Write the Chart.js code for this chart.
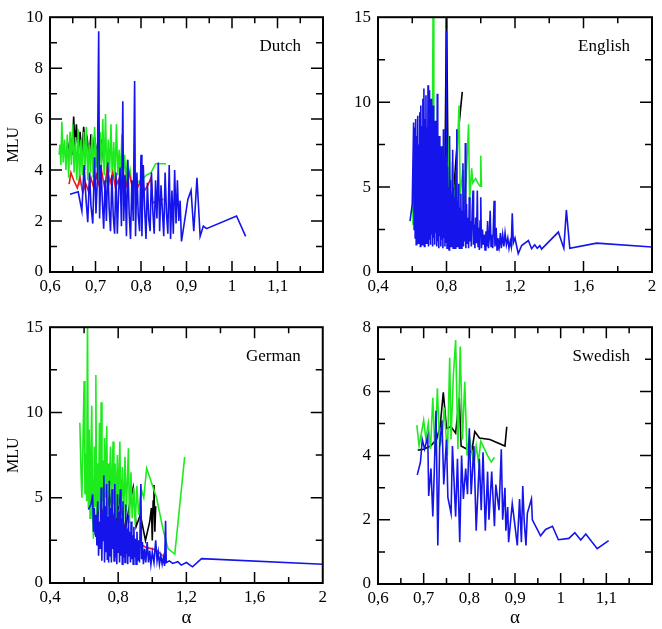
<!DOCTYPE html>
<html lang="en">
<head>
<meta charset="UTF-8">
<title>MLU against alpha, four languages</title>
<script src="https://cdn.jsdelivr.net/npm/chart.js"></script>
<style>
  body { margin: 0; background: #fff; }
  canvas { position: absolute; }
</style>
</head>
<body>
<canvas id="dutch" width="331" height="310" style="left:0;top:0"></canvas>
<canvas id="english" width="331" height="310" style="left:331px;top:0"></canvas>
<canvas id="german" width="331" height="319" style="left:0;top:310px"></canvas>
<canvas id="swedish" width="331" height="319" style="left:331px;top:310px"></canvas>
<script>
// values: [alpha, MLU]
const dutchBlack = [[0.640,4.8],[0.645,5.3],[0.649,4.6],[0.652,6.1],[0.655,4.9],[0.658,5.8],[0.662,4.7],[0.666,5.5],[0.670,4.6],[0.674,5.7],[0.678,4.8],[0.682,5.2],[0.686,4.5],[0.690,5.4],[0.694,4.6],[0.698,5.3],[0.702,4.5],[0.706,5.3],[0.710,4.5],[0.714,5.2],[0.718,4.3]];
const dutchGreen = [[0.620,4.6],[0.622,5.0],[0.624,4.2],[0.626,5.9],[0.629,4.3],[0.632,5.2],[0.635,4.0],[0.638,5.4],[0.641,3.7],[0.644,5.5],[0.647,4.2],[0.650,5.8],[0.653,3.9],[0.656,5.3],[0.659,3.6],[0.662,5.6],[0.665,3.4],[0.668,5.2],[0.671,3.8],[0.674,5.5],[0.677,4.0],[0.680,5.7],[0.683,3.6],[0.686,5.0],[0.689,3.9],[0.692,5.4],[0.695,3.7],[0.698,5.7],[0.701,4.1],[0.704,5.0],[0.707,3.6],[0.710,5.5],[0.713,4.0],[0.716,6.0],[0.719,3.8],[0.722,6.2],[0.725,3.5],[0.728,5.2],[0.731,3.9],[0.734,5.8],[0.737,3.6],[0.740,5.1],[0.743,3.7],[0.746,5.8],[0.749,3.8],[0.752,4.8],[0.755,3.6],[0.758,5.4],[0.761,3.9],[0.764,4.6],[0.767,3.5],[0.770,4.4],[0.773,3.7],[0.776,4.0],[0.780,3.4],[0.790,3.5],[0.800,3.6],[0.812,3.8],[0.822,3.9],[0.832,4.25],[0.855,4.25]];
const dutchRed = [[0.642,3.45],[0.646,3.9],[0.652,3.6],[0.660,3.3],[0.666,3.7],[0.672,3.1],[0.678,3.5],[0.684,3.2],[0.690,3.7],[0.696,3.3],[0.702,3.8],[0.708,3.4],[0.714,3.9],[0.720,3.3],[0.726,4.1],[0.732,3.5],[0.738,3.9],[0.744,3.3],[0.750,3.6],[0.756,3.2],[0.762,3.8],[0.768,3.4],[0.774,3.9],[0.780,3.4],[0.786,3.7],[0.792,3.3],[0.800,3.6],[0.808,3.2],[0.815,3.4],[0.822,3.7],[0.826,2.7],[0.835,2.8],[0.849,2.85]];
const dutchBlue = [[0.644,3.05],[0.662,3.15],[0.670,2.4],[0.675,4.2],[0.679,2.9],[0.683,1.95],[0.687,3.9],[0.690,2.6],[0.694,1.9],[0.698,4.5],[0.701,2.3],[0.704,3.6],[0.707,9.45],[0.709,2.1],[0.712,4.2],[0.715,2.8],[0.718,1.7],[0.721,3.6],[0.724,2.0],[0.727,4.3],[0.730,2.5],[0.733,1.6],[0.736,3.8],[0.739,2.2],[0.742,1.5],[0.745,3.9],[0.748,1.5],[0.751,3.2],[0.754,4.1],[0.757,1.8],[0.760,6.7],[0.762,2.0],[0.765,3.8],[0.768,1.4],[0.771,4.4],[0.774,2.3],[0.777,1.3],[0.780,3.6],[0.783,2.0],[0.786,7.5],[0.788,1.4],[0.791,3.9],[0.794,2.2],[0.797,1.6],[0.800,4.6],[0.802,1.4],[0.805,4.2],[0.808,2.5],[0.811,1.3],[0.814,3.5],[0.817,2.1],[0.820,1.6],[0.823,3.9],[0.826,2.4],[0.829,1.5],[0.832,3.6],[0.835,2.1],[0.838,4.3],[0.841,1.6],[0.844,3.4],[0.847,2.4],[0.850,1.4],[0.853,3.9],[0.856,2.3],[0.859,1.5],[0.862,4.2],[0.865,1.3],[0.868,3.2],[0.871,1.5],[0.874,4.0],[0.877,1.9],[0.880,3.6],[0.883,2.0],[0.886,2.8],[0.889,1.2],[0.903,2.85],[0.910,3.2],[0.916,1.6],[0.923,3.7],[0.930,1.4],[0.937,1.8],[0.944,1.7],[1.010,2.2],[1.030,1.4]];

const englishBlack = [[0.600,3.6],[0.603,4.2],[0.607,3.5],[0.620,4.5],[0.650,5.0],[0.700,6.0],[0.750,5.5],[0.790,4.5],[0.800,16],[0.810,5.0],[0.840,4.5],[0.860,7.3],[0.892,10.6]];
const englishGreen = [[0.600,2.8],[0.604,4.2],[0.608,3.4],[0.615,6.5],[0.620,2.5],[0.630,7.0],[0.640,3.0],[0.650,8.0],[0.660,2.6],[0.670,7.5],[0.680,3.2],[0.690,8.5],[0.700,3.0],[0.710,7.0],[0.715,4.0],[0.722,16],[0.726,3.5],[0.735,7.2],[0.745,2.8],[0.760,6.5],[0.775,3.0],[0.790,5.8],[0.805,3.2],[0.815,8.0],[0.822,4.0],[0.835,6.5],[0.848,3.5],[0.860,6.0],[0.873,9.8],[0.880,4.5],[0.895,6.0],[0.905,4.0],[0.915,5.5],[0.929,8.7],[0.935,4.2],[0.947,6.1],[0.953,5.25],[0.970,5.5],[0.985,5.2],[0.996,5.05],[1.000,6.85],[1.004,5.0]];
const englishBlue = [[0.587,3.0],[0.600,4.0],[0.608,8.8],[0.611,2.5],[0.614,8.5],[0.617,2.0],[0.620,9.0],[0.623,1.6],[0.626,8.0],[0.629,2.2],[0.632,9.2],[0.635,1.7],[0.638,7.5],[0.641,2.4],[0.644,9.4],[0.647,1.5],[0.650,9.8],[0.653,2.0],[0.656,8.6],[0.659,1.6],[0.662,10.2],[0.665,2.3],[0.668,10.8],[0.671,1.5],[0.674,9.0],[0.677,2.0],[0.680,10.4],[0.683,1.7],[0.686,8.5],[0.689,2.4],[0.692,11.0],[0.695,1.5],[0.698,10.7],[0.701,1.9],[0.704,9.6],[0.707,1.6],[0.710,10.2],[0.713,2.2],[0.716,8.2],[0.719,1.5],[0.722,9.8],[0.725,2.0],[0.728,7.6],[0.731,1.6],[0.734,8.9],[0.737,2.3],[0.740,7.2],[0.743,1.5],[0.746,10.5],[0.749,1.8],[0.752,7.0],[0.755,1.4],[0.758,8.0],[0.761,2.1],[0.764,6.5],[0.767,1.5],[0.770,7.4],[0.773,1.9],[0.776,6.0],[0.779,1.4],[0.782,8.4],[0.785,2.0],[0.788,5.8],[0.791,1.5],[0.794,6.8],[0.797,1.7],[0.800,14.2],[0.803,1.4],[0.806,6.2],[0.809,1.8],[0.812,5.0],[0.815,1.3],[0.818,8.0],[0.821,2.0],[0.824,5.4],[0.827,1.5],[0.830,4.6],[0.833,1.9],[0.836,7.2],[0.839,1.4],[0.842,5.0],[0.845,1.7],[0.848,4.4],[0.851,1.4],[0.854,6.0],[0.857,2.0],[0.860,8.4],[0.863,1.5],[0.866,4.2],[0.869,1.8],[0.872,5.2],[0.875,1.4],[0.878,3.8],[0.881,1.9],[0.884,4.6],[0.887,1.4],[0.890,3.6],[0.893,2.0],[0.896,6.4],[0.899,1.5],[0.903,3.4],[0.906,1.8],[0.910,7.6],[0.913,1.4],[0.917,4.0],[0.921,1.7],[0.925,3.2],[0.929,1.4],[0.933,4.4],[0.937,1.8],[0.941,3.0],[0.945,1.5],[0.950,3.6],[0.955,4.8],[0.958,1.6],[0.962,2.8],[0.966,1.4],[0.970,3.2],[0.975,1.7],[0.980,4.8],[0.984,1.5],[0.988,2.6],[0.992,1.3],[0.996,3.0],[1.000,4.4],[1.004,1.4],[1.010,2.5],[1.015,1.6],[1.020,2.2],[1.025,1.3],[1.030,2.4],[1.035,1.5],[1.040,3.0],[1.045,1.4],[1.050,2.0],[1.055,3.6],[1.060,1.5],[1.065,2.2],[1.070,1.4],[1.078,4.2],[1.083,1.5],[1.090,2.6],[1.095,1.3],[1.100,2.0],[1.108,1.5],[1.115,2.3],[1.120,1.4],[1.128,2.2],[1.135,1.5],[1.142,2.3],[1.150,1.6],[1.158,2.0],[1.165,1.4],[1.172,1.8],[1.178,1.5],[1.184,3.45],[1.190,1.7],[1.200,2.0],[1.210,1.5],[1.219,1.08],[1.239,1.56],[1.278,1.85],[1.297,1.37],[1.315,1.6],[1.330,1.4],[1.345,1.55],[1.355,1.35],[1.453,2.35],[1.485,1.4],[1.500,3.65],[1.520,1.4],[1.677,1.7],[2.000,1.47]];

const germanBlack = [[0.650,4.5],[0.670,2.7],[0.690,5.0],[0.720,3.5],[0.750,5.2],[0.780,3.2],[0.810,5.0],[0.840,3.0],[0.870,4.8],[0.888,5.6],[0.905,3.3],[0.930,4.0],[0.960,2.5],[0.985,3.6],[0.995,4.4],[1.000,2.5],[1.005,4.8],[1.010,5.75],[1.015,3.0],[1.020,4.5]];
const germanGreen = [[0.575,9.4],[0.582,6.5],[0.587,5.0],[0.593,8.0],[0.600,11.85],[0.605,5.2],[0.610,7.6],[0.615,4.8],[0.620,16],[0.625,4.4],[0.630,9.0],[0.635,3.8],[0.640,7.5],[0.645,10.4],[0.650,4.0],[0.655,2.6],[0.660,8.0],[0.665,4.5],[0.669,12.2],[0.674,3.2],[0.680,7.0],[0.684,4.2],[0.690,9.4],[0.695,3.5],[0.700,10.6],[0.705,4.8],[0.710,7.2],[0.715,3.6],[0.720,8.5],[0.725,5.0],[0.733,9.2],[0.738,4.0],[0.743,7.0],[0.748,5.7],[0.755,8.0],[0.760,4.2],[0.770,8.3],[0.775,4.6],[0.782,7.0],[0.788,3.8],[0.795,7.5],[0.800,4.5],[0.810,8.3],[0.815,4.0],[0.825,6.8],[0.832,3.6],[0.840,7.4],[0.848,4.2],[0.860,7.9],[0.866,3.5],[0.875,6.5],[0.882,3.8],[0.892,5.6],[0.900,3.4],[0.910,5.7],[0.920,4.0],[0.935,5.5],[0.950,5.0],[0.967,6.73],[1.025,5.0],[1.064,3.1],[1.093,2.0],[1.132,1.7],[1.190,7.4]];
const germanRed = [[0.930,2.3],[0.960,2.1],[1.000,2.0],[1.030,1.9],[1.060,1.6]];
const germanBlue = [[0.625,4.3],[0.640,4.6],[0.650,5.2],[0.655,3.0],[0.660,4.4],[0.665,2.8],[0.670,4.0],[0.675,2.2],[0.680,4.8],[0.685,1.6],[0.690,3.6],[0.695,2.0],[0.700,5.6],[0.704,1.3],[0.708,4.2],[0.712,2.5],[0.716,6.3],[0.720,1.2],[0.724,4.5],[0.728,1.8],[0.732,5.8],[0.736,1.4],[0.740,3.9],[0.744,1.2],[0.748,6.0],[0.752,1.6],[0.756,4.4],[0.760,1.2],[0.764,5.5],[0.768,2.0],[0.772,4.0],[0.776,1.3],[0.780,5.8],[0.784,1.5],[0.788,3.6],[0.792,1.1],[0.796,5.2],[0.800,1.8],[0.804,4.2],[0.808,1.2],[0.812,5.5],[0.816,1.6],[0.820,3.8],[0.824,1.1],[0.828,4.8],[0.832,1.5],[0.836,3.4],[0.840,1.2],[0.844,4.6],[0.848,1.7],[0.852,3.2],[0.856,1.1],[0.860,4.0],[0.864,1.6],[0.868,3.0],[0.872,1.2],[0.876,3.6],[0.880,1.4],[0.884,2.8],[0.888,1.1],[0.892,3.3],[0.896,1.5],[0.900,2.6],[0.905,1.1],[0.910,3.0],[0.915,1.3],[0.920,2.5],[0.925,1.2],[0.933,5.8],[0.937,1.4],[0.942,2.4],[0.948,1.1],[0.955,2.0],[0.962,1.2],[0.970,2.4],[0.978,1.2],[0.985,1.9],[0.992,1.1],[1.000,1.8],[1.010,1.2],[1.020,2.5],[1.028,1.3],[1.035,1.8],[1.042,1.1],[1.050,1.6],[1.058,1.1],[1.065,1.5],[1.072,1.0],[1.078,3.65],[1.082,1.2],[1.100,1.3],[1.120,1.15],[1.150,1.25],[1.170,1.05],[1.200,1.2],[1.236,0.95],[1.289,1.43],[2.000,1.1]];

const swedishBlack = [[0.687,4.17],[0.700,4.2],[0.715,4.3],[0.728,4.5],[0.736,4.9],[0.743,5.97],[0.750,4.85],[0.760,4.9],[0.770,4.7],[0.778,5.8],[0.782,4.3],[0.795,4.2],[0.805,4.1],[0.812,4.75],[0.822,4.55],[0.845,4.5],[0.878,4.3],[0.882,4.9]];
const swedishGreen = [[0.685,4.95],[0.690,4.3],[0.700,5.1],[0.705,4.5],[0.710,5.0],[0.715,4.2],[0.720,5.8],[0.725,4.0],[0.730,6.1],[0.735,4.3],[0.740,4.5],[0.745,5.5],[0.752,4.0],[0.757,7.05],[0.760,4.5],[0.765,6.5],[0.770,7.6],[0.775,4.2],[0.780,7.4],[0.785,4.5],[0.790,6.3],[0.795,4.0],[0.800,4.6],[0.810,3.7],[0.815,4.3],[0.820,3.8],[0.825,4.45],[0.840,4.0],[0.848,3.8],[0.855,3.95]];
const swedishBlue = [[0.686,3.4],[0.693,3.8],[0.697,4.5],[0.702,4.2],[0.709,4.6],[0.711,2.74],[0.716,3.6],[0.720,2.1],[0.723,3.4],[0.727,5.4],[0.731,1.2],[0.735,4.3],[0.740,5.1],[0.744,3.1],[0.750,4.5],[0.753,2.7],[0.760,2.2],[0.763,4.3],[0.770,2.1],[0.774,3.9],[0.779,1.3],[0.783,4.0],[0.787,2.65],[0.792,3.6],[0.796,2.8],[0.800,4.85],[0.804,2.8],[0.810,4.3],[0.815,1.66],[0.822,3.9],[0.826,2.3],[0.830,4.1],[0.835,1.66],[0.840,3.5],[0.843,2.0],[0.849,3.5],[0.855,1.8],[0.858,3.1],[0.865,2.3],[0.870,4.2],[0.873,2.0],[0.878,3.0],[0.880,1.66],[0.884,2.4],[0.886,1.3],[0.894,2.5],[0.900,1.8],[0.905,1.2],[0.910,2.65],[0.914,1.3],[0.917,3.05],[0.920,2.0],[0.924,1.2],[0.927,2.2],[0.936,2.65],[0.938,2.0],[0.956,1.5],[0.967,1.7],[0.982,1.8],[0.995,1.38],[1.018,1.42],[1.031,1.6],[1.044,1.37],[1.055,1.56],[1.080,1.1],[1.105,1.35]];

// axis ranges [min, max, major step, minor step]
const xAxisDutch = [0.6, 1.2, 0.1, 0.05];
const xAxisWide = [0.4, 2.0, 0.4, 0.2];
const yAxisDutch = [0, 10, 2, 1];
const yAxisWide = [0, 15, 5, 2.5];
const yAxisSwedish = [0, 8, 2, 1];

const BLACK = '#000000', GREEN = 'rgb(30,235,30)', RED = 'rgb(235,25,25)', BLUE = 'rgb(20,20,235)';
const SERIF = '"Liberation Serif", "Times New Roman", serif';

const framePlugin = {
    id: 'frame',
    afterDraw(chart, args, opts) {
        const {ctx, chartArea: a} = chart;
        const xs = chart.scales.x, ys = chart.scales.y;
        ctx.save();
        ctx.strokeStyle = '#000';
        ctx.lineWidth = 2;
        ctx.strokeRect(a.left, a.top, a.right - a.left, a.bottom - a.top);
        ctx.lineWidth = 1.5;
        ctx.beginPath();
        let n = Math.round((opts.x[1] - opts.x[0]) / opts.x[3]);
        for (let i = 1; i < n; i++) {
            const px = xs.getPixelForValue(opts.x[0] + i * opts.x[3]);
            const len = i % 2 === 0 ? 11 : 6;
            ctx.moveTo(px, a.bottom); ctx.lineTo(px, a.bottom - len);
            ctx.moveTo(px, a.top); ctx.lineTo(px, a.top + len);
        }
        n = Math.round((opts.y[1] - opts.y[0]) / opts.y[3]);
        for (let i = 1; i < n; i++) {
            const py = ys.getPixelForValue(opts.y[0] + i * opts.y[3]);
            const len = i % 2 === 0 ? 12 : 7;
            ctx.moveTo(a.left, py); ctx.lineTo(a.left + len, py);
            ctx.moveTo(a.right, py); ctx.lineTo(a.right - len, py);
        }
        ctx.stroke();
        ctx.fillStyle = '#000';
        ctx.font = '17px ' + SERIF;
        ctx.textAlign = 'right';
        ctx.fillText(opts.label, a.right - 22, a.top + 34);
        ctx.restore();
    }
};

function fmt(v) {
    return String(Math.round(v * 100) / 100).replace('.', ',');
}

function makePanel(id, p) {
    const series = [[p.blue, BLUE], [p.red, RED], [p.green, GREEN], [p.black, BLACK]];
    const datasets = series.filter(s => s[0]).map(([pts, col]) => ({
        data: pts.map(([x, y]) => ({x, y})),
        borderColor: col,
        borderWidth: 1.6,
        pointRadius: 0,
        fill: false,
        tension: 0
    }));
    const canvas = document.getElementById(id);
    new Chart(canvas, {
        type: 'line',
        data: {datasets},
        plugins: [framePlugin],
        options: {
            responsive: false,
            animation: false,
            layout: {padding: {left: 0, bottom: 0, top: p.area[1], right: canvas.width - p.area[2]}},
            plugins: {
                legend: {display: false},
                tooltip: {enabled: false},
                frame: {x: p.x, y: p.y, label: p.label}
            },
            scales: {
                x: {
                    type: 'linear',
                    min: p.x[0], max: p.x[1],
                    grid: {display: false, drawTicks: false},
                    border: {display: false},
                    ticks: {
                        stepSize: p.x[2], autoSkip: false, maxRotation: 0, padding: 4,
                        color: '#000', font: {family: SERIF, size: 17},
                        callback: v => (p.hideLastX && Math.abs(v - p.x[1]) < 1e-6) ? '' : fmt(v)
                    },
                    title: {display: p.xTitle, text: 'α', color: '#000', font: {family: SERIF, size: 19}, padding: {top: 0, bottom: 0}},
                    afterFit: s => { s.height = canvas.height - p.area[3]; }
                },
                y: {
                    min: p.y[0], max: p.y[1],
                    grid: {display: false, drawTicks: false},
                    border: {display: false},
                    ticks: {
                        stepSize: p.y[2], autoSkip: false, padding: 7,
                        color: '#000', font: {family: SERIF, size: 17},
                        callback: v => fmt(v)
                    },
                    title: {display: p.yTitle, text: 'MLU', color: '#000', font: {family: SERIF, size: 16}, padding: {top: 4, bottom: 0}},
                    afterFit: s => { s.width = p.area[0]; }
                }
            }
        }
    });
}

// area = [left, top, right, bottom] of the plot box inside each canvas
makePanel('dutch', {label: 'Dutch', black: dutchBlack, green: dutchGreen, red: dutchRed, blue: dutchBlue,
    x: xAxisDutch, y: yAxisDutch, hideLastX: true, yTitle: true, xTitle: false, area: [50, 13, 323, 272]});
makePanel('english', {label: 'English', black: englishBlack, green: englishGreen, blue: englishBlue,
    x: xAxisWide, y: yAxisWide, hideLastX: false, yTitle: false, xTitle: false, area: [47, 13, 321, 272]});
makePanel('german', {label: 'German', black: germanBlack, green: germanGreen, red: germanRed, blue: germanBlue,
    x: xAxisWide, y: yAxisWide, hideLastX: false, yTitle: true, xTitle: true, area: [50, 14, 323, 273]});
makePanel('swedish', {label: 'Swedish', black: swedishBlack, green: swedishGreen, blue: swedishBlue,
    x: xAxisDutch, y: yAxisSwedish, hideLastX: true, yTitle: false, xTitle: true, area: [47, 14, 321, 274]});
</script>
</body>
</html>
